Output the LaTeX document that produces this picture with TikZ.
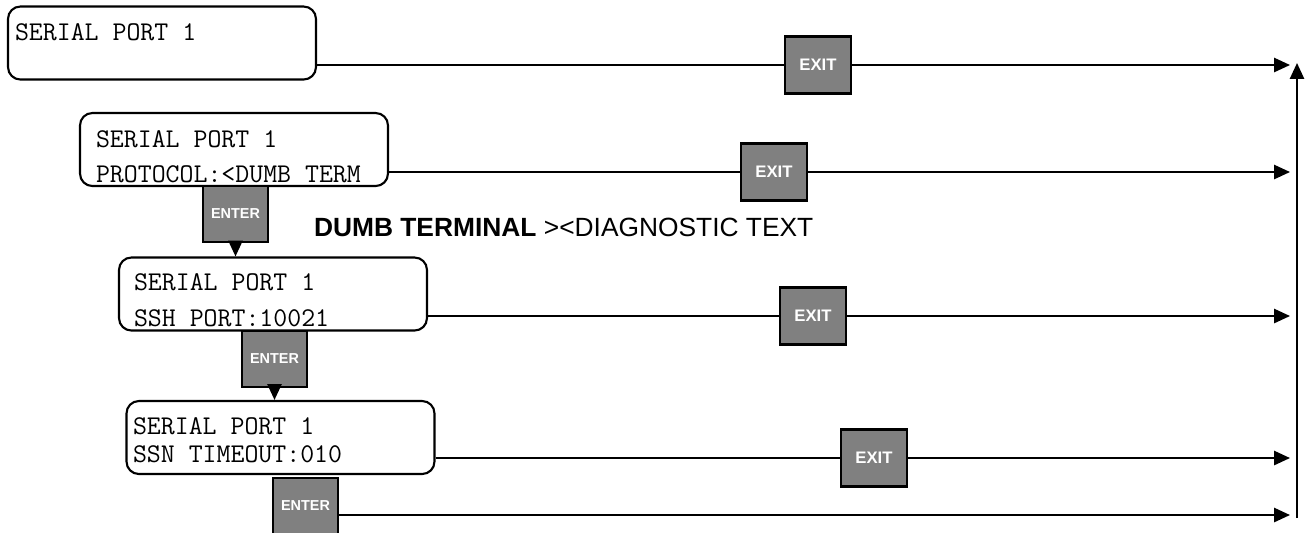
\documentclass[tikz,border=0pt]{standalone}
\usepackage{fontspec}
\setsansfont{Liberation Sans}
\usetikzlibrary{arrows.meta}
\definecolor{keygray}{HTML}{808080}
\begin{document}
\begin{tikzpicture}[x=0.02cm, y=-0.02cm, >={Triangle[length=9pt,width=8pt]}, line width=1.2pt,
  disp/.style={draw, rounded corners=7pt, minimum width=6.16cm, minimum height=1.46cm, inner sep=0pt},
  lcd/.style={font=\ttfamily\fontsize{15.4}{18}\selectfont, anchor=base west, inner sep=0pt},
  exitkey/.style={draw, fill=keygray, minimum width=1.32cm, minimum height=1.14cm, inner sep=0pt,
    text=white, font=\sffamily\bfseries\fontsize{9.5}{11}\selectfont},
  enterkey/.style={draw, fill=keygray, minimum width=1.30cm, minimum height=1.12cm, inner sep=0pt,
    text=white, font=\sffamily\bfseries\fontsize{8.2}{10}\selectfont}]
  \useasboundingbox (0,0) rectangle (1310,532);
  % displays
  \node[disp] at (162,43) (d1) {};
  \node[lcd] at (14,40) (t1) {SERIAL PORT 1};
  \node[disp] at (234,149.5) (d2) {};
  \node[lcd] at (95,147) (t2a) {SERIAL PORT 1};
  \node[lcd] at (95,182) (t2b) {PROTOCOL:<DUMB TERM};
  \node[disp] at (273,294) (d3) {};
  \node[lcd] at (133,290) (t3a) {SERIAL PORT 1};
  \node[lcd] at (133,326) (t3b) {SSH PORT:10021};
  \node[disp] at (280.5,437.5) (d4) {};
  \node[lcd] at (132,434) (t4a) {SERIAL PORT 1};
  \node[lcd] at (132,462) (t4b) {SSN TIMEOUT:010};
  \node[anchor=base west, inner sep=0pt, font=\sffamily\fontsize{15}{18}\selectfont] at (313,236) (opts)
    {\textbf{DUMB TERMINAL} ><DIAGNOSTIC TEXT};
  % keys
  \node[exitkey] at (818,65) (x1) {EXIT};
  \node[exitkey] at (774,172) (x2) {EXIT};
  \node[exitkey] at (813,316) (x3) {EXIT};
  \node[exitkey] at (874,458) (x4) {EXIT};
  \node[enterkey] at (235.5,214) (n1) {ENTER};
  \node[enterkey] at (274.5,359) (n2) {ENTER};
  \node[enterkey] at (305.5,506) (n3) {ENTER};
  % line ends
  \coordinate (e1) at (1290,65);
  \coordinate (e2) at (1290,172);
  \coordinate (e3) at (1290,316);
  \coordinate (e4) at (1290,458);
  \coordinate (e5) at (1290,515);
  \coordinate (up0) at (1297,518);
  \coordinate (up1) at (1297,63);
  \draw (d1.east |- x1) -- (x1);
  \draw[->] (x1) -- (e1);
  \draw (d2.east |- x2) -- (x2);
  \draw[->] (x2) -- (e2);
  \draw (d3.east |- x3) -- (x3);
  \draw[->] (x3) -- (e3);
  \draw (d4.east |- x4) -- (x4);
  \draw[->] (x4) -- (e4);
  \draw[->] (n3.east |- e5) -- (e5);
  \draw[->] (up0) -- (up1);
  \draw[->] (n1.south) -- (n1.south |- d3.north);
  \draw[->] (n2.south) -- (n2.south |- d4.north);
\end{tikzpicture}
\end{document}
